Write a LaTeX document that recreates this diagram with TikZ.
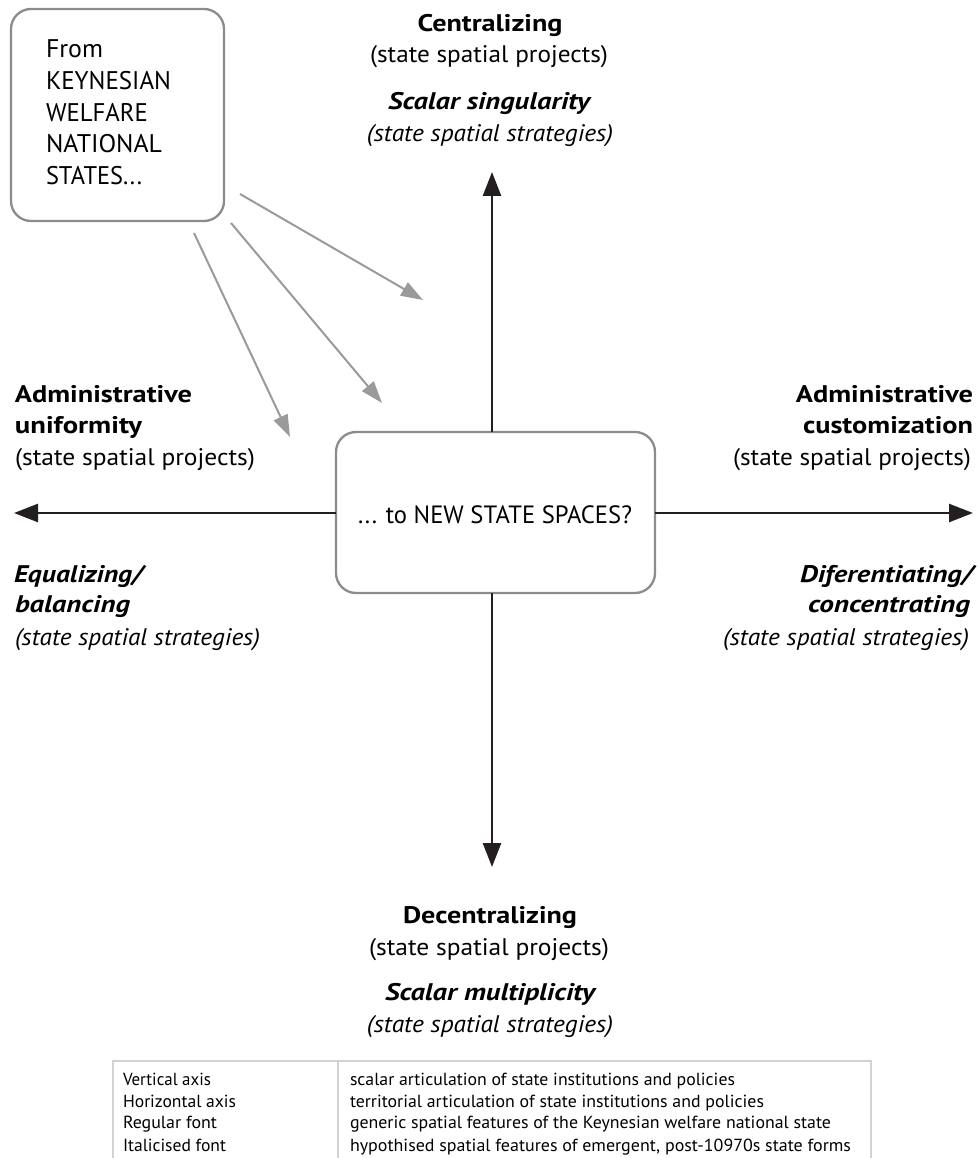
\documentclass[tikz,border=0pt]{standalone}
\usepackage{fontspec}
\setmainfont{PT Sans}
\usepackage{graphicx}
\usetikzlibrary{arrows.meta}
\definecolor{axisc}{HTML}{231F20}
\definecolor{boxc}{HTML}{8C8C8C}
\definecolor{grayarr}{HTML}{9A9A9A}
\definecolor{tabc}{HTML}{D2D2D2}
\newcommand\fw[2]{\resizebox{#1pt}{\height}{#2}}
\begin{document}
\begin{tikzpicture}[x=1pt,y=-1pt,
  lbl/.style={inner sep=0pt, outer sep=0pt, font=\fontsize{24}{28}\selectfont},
  boxtxt/.style={inner sep=0pt, outer sep=0pt, font=\fontsize{25.5}{30}\selectfont, anchor=base west},
  tabtxt/.style={inner sep=0pt, outer sep=0pt, font=\fontsize{17.5}{21}\selectfont, anchor=base west},
  roundbox/.style={draw=boxc, line width=2.3pt, rounded corners=20pt, fill=white, inner sep=0pt, outer sep=0pt},
  axisarrow/.style={draw=axisc, line width=2.5pt, -{Triangle[length=24pt,width=18pt]}},
  feed/.style={draw=grayarr, line width=2pt, -{Triangle[length=22pt,width=15pt]}},
  tabline/.style={draw=tabc, line width=2.5pt},
]
\useasboundingbox[fill=white] (0,0) rectangle (979,1158);

% boxes
\node[roundbox, minimum width=213pt, minimum height=212pt] (kwns) at (117.5,115) {};
\node[boxtxt] (k1) at (46,58) {\fw{57}{From}};
\node[boxtxt] (k2) at (46,90) {\fw{125}{KEYNESIAN}};
\node[boxtxt] (k3) at (46,122) {\fw{102}{WELFARE}};
\node[boxtxt] (k4) at (46,153) {\fw{116}{NATIONAL}};
\node[boxtxt] (k5) at (46,185) {\fw{96}{STATES...}};

\node[roundbox, minimum width=319pt, minimum height=161pt] (nss) at (495.5,512.5) {};
\node[boxtxt, font=\fontsize{25}{30}\selectfont] (nsst) at (358,523) {\fw{274}{... to NEW STATE SPACES?}};

% axes
\coordinate (ttip) at (492,172);
\coordinate (btip) at (492,867);
\coordinate (ltip) at (14,513);
\coordinate (rtip) at (973,513);
\draw[axisarrow] (nss.north -| ttip) -- (ttip);
\draw[axisarrow] (nss.south -| btip) -- (btip);
\draw[axisarrow] (nss.west |- ltip) -- (ltip);
\draw[axisarrow] (nss.east |- rtip) -- (rtip);

% grey arrows
\coordinate (s1) at (240,194); \coordinate (e1) at (423,300);
\coordinate (s2) at (231,223); \coordinate (e2) at (382,403);
\coordinate (s3) at (194,233); \coordinate (e3) at (290,437);
\draw[feed] (s1) -- (e1);
\draw[feed] (s2) -- (e2);
\draw[feed] (s3) -- (e3);

% top labels
\node[lbl, anchor=base] (t1) at (490,32) {\fw{145}{\bfseries Centralizing}};
\node[lbl, anchor=base] (t2) at (489,63) {\fw{238}{(state spatial projects)}};
\node[lbl, anchor=base] (t3) at (489,110) {\fw{202}{\bfseries\itshape Scalar singularity}};
\node[lbl, anchor=base] (t4) at (490,142) {\fw{246}{\itshape (state spatial strategies)}};

% bottom labels
\node[lbl, anchor=base] (b1) at (490,923) {\fw{174}{\bfseries Decentralizing}};
\node[lbl, anchor=base] (b2) at (489,955) {\fw{240}{(state spatial projects)}};
\node[lbl, anchor=base] (b3) at (490,1000) {\fw{210}{\bfseries\itshape Scalar multiplicity}};
\node[lbl, anchor=base] (b4) at (490,1032) {\fw{246}{\itshape (state spatial strategies)}};

% left labels
\node[lbl, anchor=base west] (l1) at (15,402) {\fw{177}{\bfseries Administrative}};
\node[lbl, anchor=base west] (l2) at (15,433) {\fw{127}{\bfseries uniformity}};
\node[lbl, anchor=base west] (l3) at (15,465) {\fw{240}{(state spatial projects)}};
\node[lbl, anchor=base west] (l4) at (14,582) {\fw{129}{\bfseries\itshape Equalizing/}};
\node[lbl, anchor=base west] (l5) at (15,612) {\fw{115}{\bfseries\itshape balancing}};
\node[lbl, anchor=base west] (l6) at (15,645) {\fw{245}{\itshape (state spatial strategies)}};

% right labels
\node[lbl, anchor=base east] (r1) at (973,402) {\fw{177}{\bfseries Administrative}};
\node[lbl, anchor=base east] (r2) at (973,433) {\fw{170}{\bfseries customization}};
\node[lbl, anchor=base east] (r3) at (971,465) {\fw{238}{(state spatial projects)}};
\node[lbl, anchor=base east] (r4) at (973,582) {\fw{173}{\bfseries\itshape Diferentiating/}};
\node[lbl, anchor=base east] (r5) at (970,612) {\fw{162}{\bfseries\itshape concentrating}};
\node[lbl, anchor=base east] (r6) at (969,645) {\fw{246}{\itshape (state spatial strategies)}};

% legend table
\draw[tabline] (113,1170) -- (113,1061) -- (871,1061) -- (871,1170);
\draw[tabline] (338,1061) -- (338,1170);
\node[tabtxt] (v1) at (123,1085) {\fw{88}{Vertical axis}};
\node[tabtxt] (v2) at (123,1107) {\fw{113}{Horizontal axis}};
\node[tabtxt] (v3) at (123,1128) {\fw{94}{Regular font}};
\node[tabtxt] (v4) at (123,1151) {\fw{103}{Italicised font}};
\node[tabtxt] (d1) at (350,1085) {\fw{385}{scalar articulation of state institutions and policies}};
\node[tabtxt] (d2) at (350,1107) {\fw{414}{territorial articulation of state institutions and policies}};
\node[tabtxt] (d3) at (350,1128) {\fw{481}{generic spatial features of the Keynesian welfare national state}};
\node[tabtxt] (d4) at (350,1151) {\fw{501}{hypothised spatial features of emergent, post-10970s state forms}};
\end{tikzpicture}
\end{document}
